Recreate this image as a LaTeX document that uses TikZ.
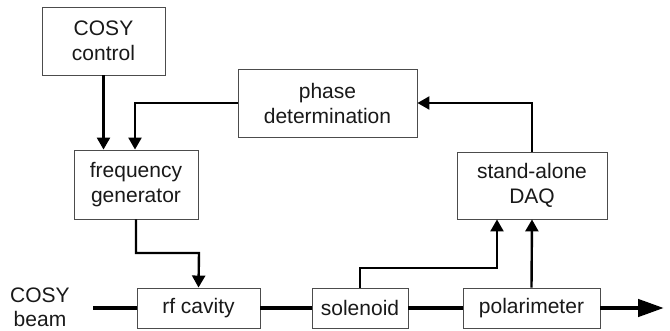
\documentclass[tikz,border=0pt]{standalone}
\usepackage{fontspec}
\setmainfont{Liberation Sans}
\usetikzlibrary{arrows.meta}
\begin{document}
\begin{tikzpicture}[x=1pt,y=-1pt,
  blk/.style={draw=black!70,line width=0.9pt,fill=white,inner sep=0pt,align=center,
    font=\fontsize{21}{25}\selectfont,text=black!90},
  sig/.style={line width=2.4pt,-{Triangle[length=12pt,width=13pt]}},
  beam/.style={line width=4.5pt}]
\useasboundingbox (0,0) rectangle (670,331);
\node[blk,minimum width=123pt,minimum height=68pt] (cc) at (103.5,41) {COSY\\control};
\node[blk,minimum width=179pt,minimum height=68pt] (pd) at (327.5,103) {phase\\determination};
\node[blk,minimum width=124pt,minimum height=69pt] (fg) at (136,184.5) {frequency\\generator};
\node[blk,minimum width=150pt,minimum height=67pt] (daq) at (532,185.5) {stand-alone\\DAQ};
\node[blk,minimum width=123pt,minimum height=40pt] (rf) at (198.5,308) {rf cavity};
\node[blk,minimum width=96pt,minimum height=40pt] (sol) at (360,308) {solenoid};
\node[blk,minimum width=137pt,minimum height=40pt] (pol) at (531.5,308) {polarimeter};
\node[font=\fontsize{21}{24}\selectfont,align=center,text=black!90] (cb) at (40,307) {COSY\\beam};
\coordinate (bs) at (93,308);
\coordinate (be) at (664,308);
% beam line
\draw[beam] (bs) -- (rf.west);
\draw[beam] (rf.east) -- (sol.west);
\draw[beam] (sol.east) -- (pol.west);
\draw[beam,-{Triangle[length=26pt,width=17pt]}] (pol.east) -- (be);
% signals
\draw[sig] (cc.south) -- (fg.north -| cc.south);
\draw[sig] (pd.west) -| ([xshift=-1pt]fg.north);
\draw[sig] (daq.north) |- (pd.east);
\draw[sig] (fg.south) |- (199,253) -- (rf.north);
\draw[sig] (sol.north) |- (497,268) -- (daq.south -| 497,0);
\draw[sig] (pol.north) -- (daq.south);
\end{tikzpicture}
\end{document}
